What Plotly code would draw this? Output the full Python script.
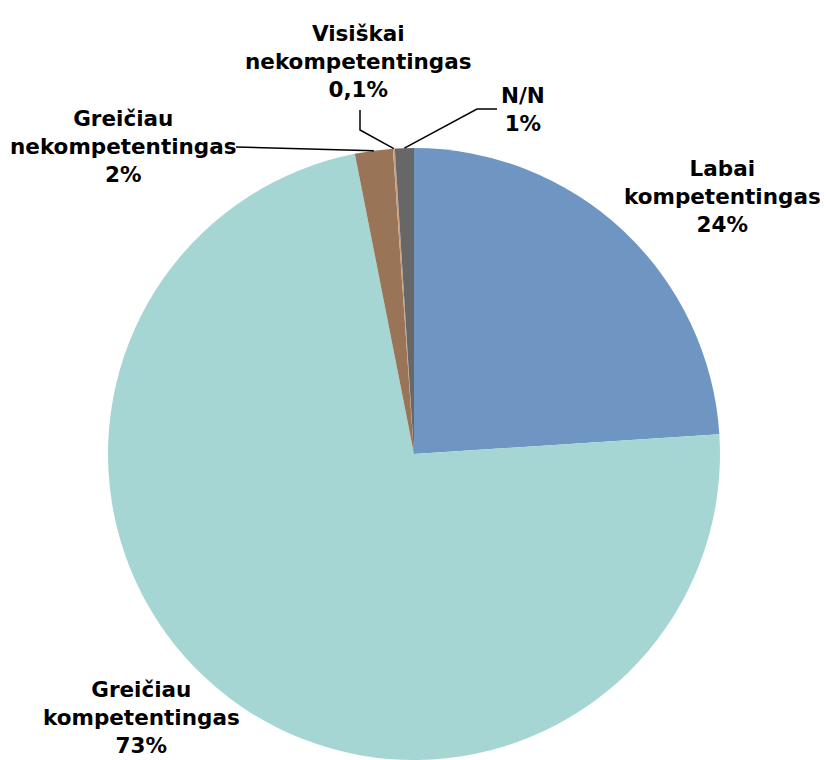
import math
import plotly.graph_objects as go

# ---- data ----
labels = ["Labai kompetentingas", "Greičiau kompetentingas", "Greičiau nekompetentingas",
          "Visiškai nekompetentingas", "N/N"]
values = [24, 73, 2, 0.1, 1]
pct_text = ["24%", "73%", "2%", "0,1%", "1%"]
colors = ["#6f96c3", "#a6d6d4", "#9a7457", "#c8a080", "#676767"]

# the page body has an 8px margin, so the figure is drawn at (8, 8)
OFF = 8
W, H = 820, 752
R = 306
CX_F, CY_F = 406, H - R          # pie centre in figure px
CX, CY = CX_F + OFF, CY_F + OFF  # pie centre in screen px


def px(x, y):
    """screen px -> paper coords"""
    return (x - OFF) / W, 1 - (y - OFF) / H


fig = go.Figure()
fig.add_trace(go.Pie(
    labels=labels, values=values, sort=False, direction="clockwise", rotation=0,
    textinfo="none", hoverinfo="label+percent", showlegend=False,
    marker=dict(colors=colors, line=dict(width=0)),
    domain=dict(x=[0, 2 * CX_F / W], y=[0, (2 * R) / H]),
))

# label positions (screen px centres) for each slice's text block
label_pos = [(722, 196), (141, 717), (124, 146), (358, 62), (523, 110)]
for lab, pct, (lx, ly) in zip(labels, pct_text, label_pos):
    x, y = px(lx, ly)
    fig.add_annotation(
        x=x, y=y, xref="paper", yref="paper", showarrow=False,
        xanchor="center", yanchor="middle", align="center",
        text="<b>" + lab.replace(" ", "<br>") + "<br>" + pct + "</b>",
        font=dict(family="DejaVu Sans", size=21.5, color="black"),
    )

# leader lines to the mid angle of the small slices (computed from values)
total = sum(values)
cum = 0
mids = []
for v in values:
    mids.append((cum + v / 2) / total)
    cum += v


def edge(i):
    a = mids[i] * 2 * math.pi
    return CX + R * math.sin(a), CY - R * math.cos(a)


leaders = {
    2: [(236, 147)],
    3: [(360, 110), (360, 130)],
    4: [(497, 109), (477, 109)],
}
for i, pts in leaders.items():
    pts = pts + [edge(i)]
    path = ""
    for k, (x, y) in enumerate(pts):
        xp, yp = px(x, y)
        path += ("M" if k == 0 else " L") + f" {xp} {yp}"
    fig.add_shape(type="path", path=path, xref="paper", yref="paper",
                  line=dict(color="black", width=1.5))

fig.update_layout(
    width=W, height=H, margin=dict(l=0, r=0, t=0, b=0),
    paper_bgcolor="white", plot_bgcolor="white",
)
fig.write_html("out.html")
